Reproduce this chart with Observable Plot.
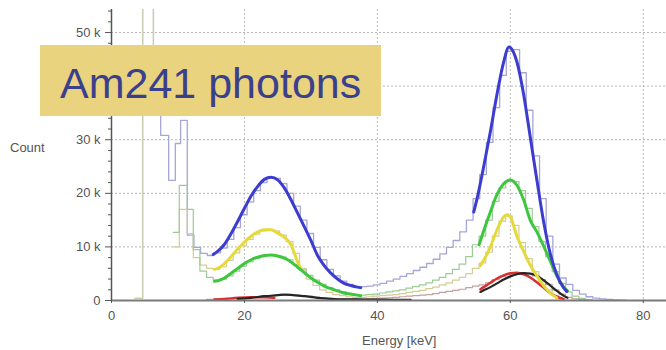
<!DOCTYPE html>
<html>
<head>
<meta charset="utf-8">
<script src="https://cdn.jsdelivr.net/npm/d3@7"></script>
<script src="https://cdn.jsdelivr.net/npm/@observablehq/plot@0.6"></script>
<style>
  html, body { margin: 0; padding: 0; background: #fff; }
  #wrap { position: relative; width: 666px; height: 350px; overflow: hidden; font-family: "Liberation Sans", Arial, sans-serif; }
  #chart { position: absolute; left: 0; top: 0; }
  #title { position: absolute; left: 40px; top: 45px; width: 341px; height: 71px; background: #e9d37f;
           color: #3a408c; font-size: 43px; line-height: 76px; padding-left: 20px; box-sizing: border-box; white-space: nowrap; overflow: hidden; }
  .lab { position: absolute; color: #555; font-size: 13px; white-space: nowrap; }
</style>
</head>
<body>
<div id="wrap">
  <div id="chart"></div>
  <div id="title">Am241 photons</div>
  <div class="lab" style="left:10px; top:140px;">Count</div>
  <div class="lab" style="left:362px; top:333px;">Energy [keV]</div>
</div>
<script>
// ---- tick labels ----
const xTicks = [0, 20, 40, 60, 80];
const yTicks = [0, 10, 20, 30, 40, 50];           // in thousands
const yTickLabels = ["0", "10 k", "20 k", "30 k", "", "50 k"];  // 40 k sits behind the title box
const yMinor = [2,4,6,8,12,14,16,18,22,24,26,28,32,34,36,38,42,44,46,48,52,54];

// ---- thin histograms (bin left edges in keV, counts in k) ----
const olivE = [3.5, 4.7, 6.3];
const olivC = [0.4, 90, 40];

const lavE = [6.3,7.4,8.6,9.6,10.4,11.4,12.4,13.4,14.4,15.4,16.4,17.4,18.4,19.4,20.4,21.4,22.4,23.4,24.4,25.4,
  26.4,27.4,28.4,29.4,30.4,31.4,32.4,33.4,34.4,35.4,36.4,37.4,38.4,39.4,40.4,41.4,42.4,43.4,44.4,45.4,
  46.4,47.4,48.4,49.4,50.4,51.4,52.4,53.4,54.4,55.4,56.4,57.4,58.4,59.4,60.4,61.4,62.4,63.4,64.4,65.4,
  66.4,67.4,68.4,69.4,70.4,71.4,72.4,73.4,74.4,75.4,76.4,77.4];
const lavC = [40,30.8,22.4,29.3,33.6,12.2,9.9,8.8,8.4,8.9,9.8,11.4,13.6,16.0,18.4,20.5,22.0,22.9,22.8,21.8,
  20.0,17.6,15.0,12.5,9.9,7.6,5.8,4.6,3.6,3.0,2.6,2.6,2.7,2.9,3.2,3.6,4.0,4.5,5.0,5.6,
  6.2,6.9,7.7,8.7,9.9,11.2,12.8,15.0,19.0,23.5,29.5,36.0,42.0,46.5,46.8,42.5,35.5,27.0,19.0,12.0,
  6.8,4.2,3.0,1.9,1.2,0.7,0.45,0.3,0.2,0.1,0.05,0];

const grnE = [9.3,10.2,11.4,12.3,13.3,14.3,15.3,16.3,17.3,18.3,19.3,20.3,21.3,22.3,23.3,24.3,25.3,26.3,27.3,28.3,
  29.3,30.3,31.3,32.3,33.3,34.3,35.3,36.3,37.3,38.3,39.3,40.3,41.3,42.3,43.3,44.3,45.3,46.3,47.3,48.3,
  49.3,50.3,51.3,52.3,53.3,54.3,55.3,56.3,57.3,58.3,59.3,60.3,61.3,62.3,63.3,64.3,65.3,66.3,67.3,68.3,
  69.3,70.3,71.3,72.3];
const grnC = [12.7,21.5,17.0,9.5,5.5,4.3,3.8,4.0,4.6,5.5,6.4,7.2,7.8,8.2,8.5,8.4,8.1,7.6,6.7,5.7,
  4.7,3.8,3.0,2.4,2.0,1.6,1.3,1.1,1.0,1.1,1.2,1.4,1.6,1.8,2.0,2.3,2.6,2.9,3.3,3.8,
  4.3,5.0,5.8,6.8,8.2,10.4,12.0,15.0,18.5,21.0,22.3,22.2,20.5,17.2,13.8,11.0,8.2,5.4,3.2,1.6,
  0.8,0.4,0.15,0];

const tanE = [9.3,10.2,11.4,12.3,13.3,14.3,15.3,16.3,17.3,18.3,19.3,20.3,21.3,22.3,23.3,24.3,25.3,26.3,27.3,28.3,
  29.3,30.3,31.3,32.3,33.3,34.3,35.3,36.3,37.3,38.3,39.3,40.3,41.3,42.3,43.3,44.3,45.3,46.3,47.3,48.3,
  49.3,50.3,51.3,52.3,53.3,54.3,55.3,56.3,57.3,58.3,59.3,60.3,61.3,62.3,63.3,64.3,65.3,66.3,67.3,68.3];
const tanC = [10.0,17.0,12.5,8.0,6.6,6.0,5.8,6.3,7.5,8.9,10.2,11.4,12.4,13.0,13.2,13.0,12.2,11.0,8.8,6.0,
  4.0,2.8,2.0,1.5,1.1,0.9,0.7,0.6,0.6,0.7,0.8,0.9,1.0,1.1,1.3,1.5,1.7,1.9,2.2,2.5,
  2.9,3.3,3.8,4.3,5.0,6.0,7.0,9.0,12.0,14.8,15.8,14.0,10.8,7.8,5.4,3.6,2.0,0.9,0.3,0];

const pnkE = [14.3,15.3,16.3,17.3,18.3,19.3,20.3,21.3,22.3,23.3,24.3,25.3,26.3,27.3,28.3,29.3,30.3,31.3,32.3,33.3,
  34.3,35.3,36.3,37.3,38.3,39.3,40.3,41.3,42.3,43.3,44.3,45.3,46.3,47.3,48.3,49.3,50.3,51.3,52.3,53.3,
  54.3,55.3,56.3,57.3,58.3,59.3,60.3,61.3,62.3,63.3,64.3,65.3,66.3,67.3,68.3,69.3,70.3,71.3];
const pnkC = [0.2,0.25,0.3,0.35,0.45,0.5,0.6,0.65,0.75,0.85,0.95,1.0,1.05,1.0,0.9,0.8,0.65,0.5,0.4,0.35,
  0.3,0.3,0.3,0.3,0.35,0.4,0.45,0.5,0.6,0.7,0.8,0.9,1.0,1.1,1.3,1.5,1.7,1.9,2.1,2.4,
  2.7,2.9,3.3,3.9,4.5,4.9,5.2,5.2,5.0,4.6,3.9,3.0,2.0,1.2,0.6,0.3,0.15,0];

// ---- thick fitted curves ----
const blue1E = [15.3,16,17,18,19,20,21,22,23,24,25,26,27,28,29,30,31,32,33,34,35,36,37,37.5];
const blue1C = [8.6,9.2,10.5,12.5,14.8,17.2,19.5,21.3,22.6,23.0,22.5,21.0,18.8,16.3,13.8,11.2,8.4,6.5,5.1,4.0,3.2,2.8,2.5,2.4];
const grn1E  = [15.5,16,17,18,19,20,21,22,23,24,25,26,27,28,29,30,31,32,33,34,35,36,37,37.5];
const grn1C  = [3.6,3.7,4.2,5.1,6.0,6.9,7.6,8.1,8.4,8.5,8.3,7.9,7.2,6.2,5.2,4.2,3.4,2.7,2.2,1.8,1.4,1.2,1.0,0.9];
const yel1E  = [15.5,16,17,18,19,20,21,22,23,24,25,26,27,28,28.5];
const yel1C  = [5.8,6.0,6.9,8.2,9.6,10.9,12.0,12.8,13.2,13.2,12.6,11.8,10.4,7.2,5.8];
const red1E  = [15.5,17,19,21,23,24.5];
const red1C  = [0.2,0.3,0.5,0.6,0.6,0.5];
const blk1E  = [19,21,23,25,26,27,29,31,33,35,37,39,41,43,45];
const blk1C  = [0.3,0.5,0.8,1.0,1.1,1.05,0.8,0.5,0.3,0.2,0.2,0.15,0.15,0.1,0.1];

const blue2E = [54.5,55,56,57,58,59,59.8,60,61,62,63,64,65,66,67,68,68.5];
const blue2C = [16.5,19.0,25.0,31.5,38.5,44.5,47.3,47.2,44.5,38.5,30.5,22.5,14.8,8.8,4.8,2.4,1.7];
const grn2E  = [55.3,56,57,58,59,60,61,62,63,64,65,66,67,68,68.6];
const grn2C  = [10.4,13.0,16.5,19.8,21.8,22.5,21.5,18.8,15.0,12.8,10.2,7.4,4.6,2.6,1.8];
const yel2E  = [55.5,56,57,58,59,59.5,60,61,62,63,64,65,66,67];
const yel2C  = [6.5,7.5,10.0,13.2,15.6,16.0,15.6,12.0,9.2,6.6,4.6,2.8,1.4,0.5];
const red2E  = [55.5,56,57,58,59,60,61,62,63,64,65,66,67,68];
const red2C  = [2.1,2.5,3.3,4.1,4.7,5.1,5.2,4.9,4.3,3.4,2.4,1.4,0.7,0.3];
const blk2E  = [55.5,56,57,58,59,60,61,62,63,64,65,66,67,68,68.6];
const blk2C  = [1.6,1.9,2.5,3.2,3.9,4.5,4.9,5.1,5.0,4.6,3.8,2.8,1.8,0.9,0.5];

const rows = (E, C) => E.map((e, i) => ({e, c: C[i]}));
const hist = (E, C, stroke, w = 1.2) =>
  Plot.line(rows(E, C), {x: "e", y: "c", curve: "step-after", stroke, strokeWidth: w, clip: true});
const fit = (E, C, stroke, w = 3) =>
  Plot.line(rows(E, C), {x: "e", y: "c", curve: "monotone-x", stroke, strokeWidth: w, clip: true, strokeLinejoin: "round"});

const chart = Plot.plot({
  width: 666,
  height: 350,
  marginLeft: 111,
  marginRight: 0,
  marginTop: 9,
  marginBottom: 50,
  x: {domain: [0, 83.5]},
  y: {domain: [0, 54.3]},
  style: {fontFamily: "Liberation Sans, Arial, sans-serif", fontSize: "13px", color: "#555", background: "white"},
  marks: [
    Plot.gridY(yTicks.slice(1), {stroke: "#b4b4b4", strokeOpacity: 1, strokeDasharray: "2,2"}),
    Plot.gridX(xTicks.slice(1), {stroke: "#bcbcbc", strokeOpacity: 1, strokeDasharray: "2,2"}),
    hist(olivE, olivC, "#c9cdb0", 1.5),
    hist(lavE, lavC, "#a6a6d6", 1.3),
    hist(tanE, tanC, "#d6cc94", 1.2),
    hist(grnE, grnC, "#9ccc96", 1.2),
    hist(pnkE, pnkC, "#c4a2a2", 1.2),
    fit(red1E, red1C, "#d83030", 2.5),
    fit(blk1E, blk1C, "#252525", 2.2),
    fit(yel1E, yel1C, "#e4da3c", 3),
    fit(grn1E, grn1C, "#3fc63f", 3),
    fit(blue1E, blue1C, "#3c3cd0", 3),
    fit(red2E, red2C, "#d83030", 2.5),
    fit(blk2E, blk2C, "#252525", 2.2),
    fit(yel2E, yel2C, "#e4da3c", 3),
    fit(grn2E, grn2C, "#3fc63f", 3),
    fit(blue2E, blue2C, "#3c3cd0", 3),
    Plot.ruleY([0], {stroke: "#7a7a7a", strokeWidth: 2}),
    Plot.ruleX([0], {stroke: "#555", strokeWidth: 1.5}),
    Plot.axisY(yMinor, {tickSize: 3, tickFormat: () => "", label: null, stroke: "#555"}),
    Plot.axisY(yTicks, {tickSize: 6, tickPadding: 5, tickFormat: (d, i) => yTickLabels[yTicks.indexOf(d)], label: null, fill: "#555", stroke: "#555"}),
    Plot.axisX(xTicks, {tickSize: 3, tickPadding: 7, label: null, fill: "#555", stroke: "#555"})
  ]
});
document.getElementById("chart").appendChild(chart);
</script>
</body>
</html>
